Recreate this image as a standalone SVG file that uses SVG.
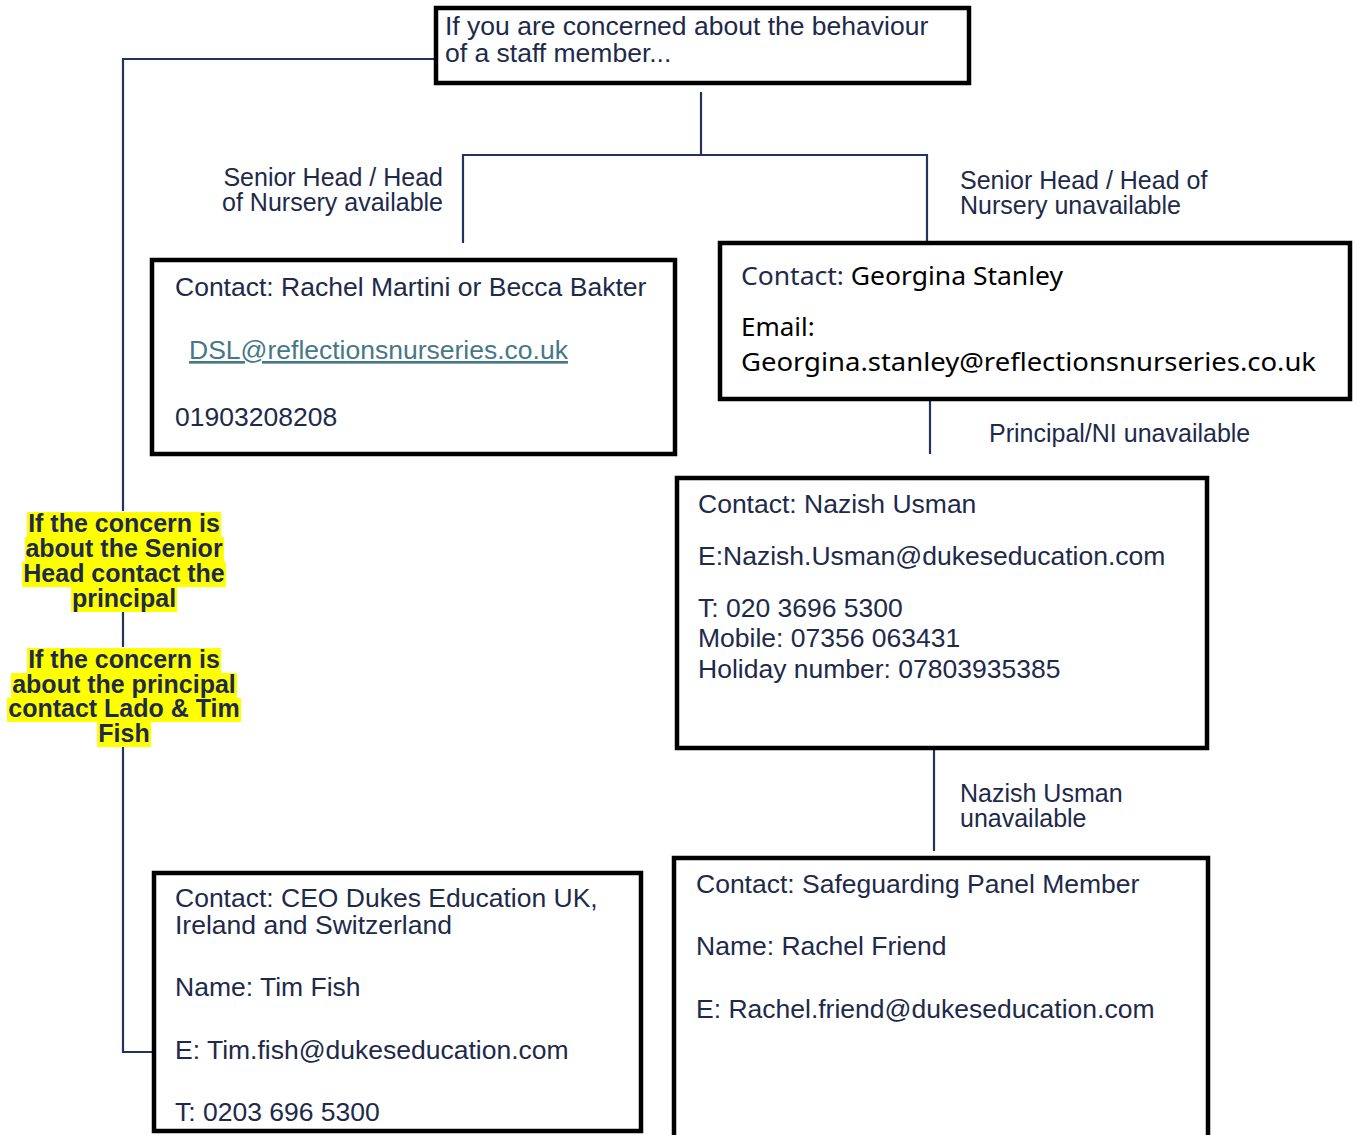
<svg xmlns="http://www.w3.org/2000/svg" width="1358" height="1135" viewBox="0 0 1358 1135">
<style>
.box{fill:#fff;stroke:#000;stroke-width:4.5}
.t{font-family:"Liberation Sans",Arial,sans-serif;font-size:26.5px;fill:#1e2a4a}
.lbl{font-family:"Liberation Sans",Arial,sans-serif;font-size:25px;fill:#1e2a4a}
.ap{font-family:"Noto Sans","Open Sans",sans-serif;font-size:26px;fill:#000}
.b{font-family:"Liberation Sans",Arial,sans-serif;font-size:25px;font-weight:bold;fill:#1e2a4a;text-anchor:middle}
.hl{fill:#ffff00}
.ln{fill:none;stroke:#23345a;stroke-width:2.2}
</style>
<rect width="1358" height="1135" fill="#fff"/>
<g id="connectors">
<path class="ln" d="M434 59 H123 V1052 H152"/>
<path class="ln" d="M701 92 V155"/>
<path class="ln" d="M463 243 V155 H927 V241"/>
<path class="ln" d="M930 400 V454"/>
<path class="ln" d="M934 750 V851"/>
</g>
<g id="label-available"><text class="lbl" text-anchor="end"><tspan x="443" y="186">Senior Head / Head</tspan><tspan x="443" y="211">of Nursery available</tspan></text></g>
<g id="label-unavailable"><text class="lbl"><tspan x="960" y="189">Senior Head / Head of</tspan><tspan x="960" y="214">Nursery unavailable</tspan></text></g>
<g id="label-principal"><text class="lbl" x="989" y="442">Principal/NI unavailable</text></g>
<g id="label-nazish"><text class="lbl"><tspan x="960" y="802">Nazish Usman</tspan><tspan x="960" y="827">unavailable</tspan></text></g>
<g id="note-senior-head">
<rect x="10" y="511" width="228" height="101" fill="#fff"/>
<rect class="hl" x="27" y="512" width="194" height="25"/>
<rect class="hl" x="25" y="537" width="199" height="25"/>
<rect class="hl" x="22" y="562" width="204" height="25"/>
<rect class="hl" x="71" y="587" width="106" height="25"/>
<text class="b"><tspan x="124" y="532">If the concern is</tspan><tspan x="124" y="557">about the Senior</tspan><tspan x="124" y="582">Head contact the</tspan><tspan x="124" y="607">principal</tspan></text>
</g>
<g id="note-principal">
<rect x="5" y="647" width="238" height="100" fill="#fff"/>
<rect class="hl" x="27" y="648" width="194" height="25"/>
<rect class="hl" x="11" y="673" width="226" height="25"/>
<rect class="hl" x="7" y="698" width="234" height="24"/>
<rect class="hl" x="97" y="722" width="54" height="25"/>
<text class="b"><tspan x="124" y="668">If the concern is</tspan><tspan x="124" y="693">about the principal</tspan><tspan x="124" y="717">contact Lado &amp; Tim</tspan><tspan x="124" y="742">Fish</tspan></text>
</g>
<g id="start">
<rect class="box" x="436" y="8" width="533" height="75"/>
<text class="t"><tspan x="445" y="35">If you are concerned about the behaviour</tspan><tspan x="445" y="62">of a staff member...</tspan></text>
</g>
<g id="dsl">
<rect class="box" x="152" y="260" width="523" height="194"/>
<text class="t" x="175" y="296">Contact: Rachel Martini or Becca Bakter</text>
<text class="t" x="189" y="359" style="fill:#467886;text-decoration:underline">DSL@reflectionsnurseries.co.uk</text>
<text class="t" x="175" y="426">01903208208</text>
</g>
<g id="georgina">
<rect class="box" x="720" y="243" width="630" height="156"/>
<text class="ap" x="741" y="285" textLength="322" lengthAdjust="spacingAndGlyphs"><tspan style="fill:#1e2a4a">Contact: </tspan>Georgina Stanley</text>
<text class="ap" x="741" y="336">Email:</text>
<text class="ap" x="741" y="371" textLength="575" lengthAdjust="spacingAndGlyphs">Georgina.stanley@reflectionsnurseries.co.uk</text>
</g>
<g id="nazish">
<rect class="box" x="677" y="478" width="530" height="270"/>
<text class="t" x="698" y="513">Contact: Nazish Usman</text>
<text class="t" x="698" y="565">E:Nazish.Usman@dukeseducation.com</text>
<text class="t"><tspan x="698" y="617">T: 020 3696 5300</tspan><tspan x="698" y="647">Mobile: 07356 063431</tspan><tspan x="698" y="678">Holiday number: 07803935385</tspan></text>
</g>
<g id="panel">
<rect class="box" x="674" y="858" width="534" height="290"/>
<text class="t" x="696" y="893">Contact: Safeguarding Panel Member</text>
<text class="t" x="696" y="955">Name: Rachel Friend</text>
<text class="t" x="696" y="1018">E: Rachel.friend@dukeseducation.com</text>
</g>
<g id="ceo">
<rect class="box" x="154" y="873" width="487" height="258"/>
<text class="t"><tspan x="175" y="907">Contact: CEO Dukes Education UK,</tspan><tspan x="175" y="934">Ireland and Switzerland</tspan></text>
<text class="t" x="175" y="996">Name: Tim Fish</text>
<text class="t" x="175" y="1059">E: Tim.fish@dukeseducation.com</text>
<text class="t" x="175" y="1121">T: 0203 696 5300</text>
</g>
</svg>
